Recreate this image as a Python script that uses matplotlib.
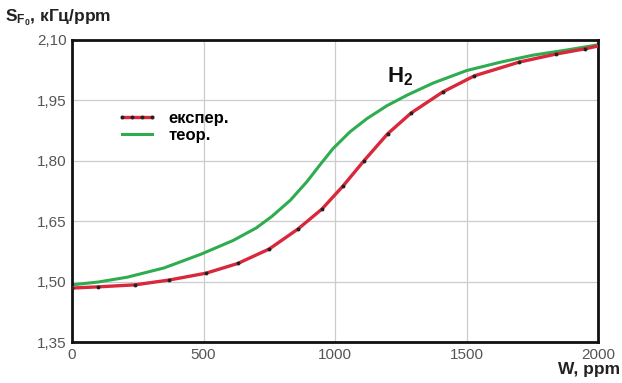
import matplotlib
matplotlib.use('Agg')
import matplotlib.pyplot as plt
from matplotlib.lines import Line2D

plt.rcParams['font.family'] = ['Liberation Sans', 'DejaVu Sans']
plt.rcParams['mathtext.fontset'] = 'custom'
plt.rcParams['mathtext.rm'] = 'Liberation Sans:bold'
plt.rcParams['mathtext.it'] = 'Liberation Sans:bold'
plt.rcParams['mathtext.bf'] = 'Liberation Sans:bold'

W_exp = [0, 100, 240, 370, 510, 630, 750, 860, 950, 1030, 1110, 1200,
         1290, 1410, 1530, 1700, 1840, 1950, 2000]
S_exp = [1.484, 1.487, 1.492, 1.504, 1.521, 1.545, 1.581, 1.631, 1.680,
         1.737, 1.800, 1.867, 1.919, 1.971, 2.011, 2.045, 2.065, 2.078, 2.085]
marker_pts = 18  # last value is the line end, no marker

# theoretical curve
W_teor = [0, 100, 210, 350, 490, 612, 700, 760, 830, 893, 943, 992, 1057,
          1122, 1198, 1274, 1373, 1500, 1630, 1750, 1880, 2000]
S_teor = [1.492, 1.499, 1.511, 1.534, 1.568, 1.602, 1.633, 1.662, 1.702,
          1.748, 1.790, 1.830, 1.872, 1.905, 1.937, 1.963, 1.993, 2.024,
          2.045, 2.062, 2.075, 2.088]

yticks = [1.35, 1.50, 1.65, 1.80, 1.95, 2.10]
ytick_labels = ['1,35', '1,50', '1,65', '1,80', '1,95', '2,10']
xticks = [0, 500, 1000, 1500, 2000]

fig = plt.figure(figsize=(6.22, 3.83), dpi=100)
ax = fig.add_axes([0.1158, 0.107, 0.8456, 0.7886])

red = '#d9283c'
green = '#2fac4f'

ax.plot(W_teor, S_teor, color=green, lw=2.2)
ax.plot(W_exp, S_exp, color=red, lw=2.4, zorder=3)
ax.plot(W_exp[:marker_pts], S_exp[:marker_pts], ls='none', marker='o',
        ms=1.8, color='#222222', zorder=4)

ax.set_xlim(0, 2000)
ax.set_ylim(1.35, 2.10)
ax.set_xticks(xticks)
ax.set_yticks(yticks)
ax.set_yticklabels(ytick_labels)
ax.tick_params(length=0, labelsize=11, labelcolor='#555555', pad=4)
ax.grid(color='#cccccc', lw=0.9)
ax.set_axisbelow(True)
for s in ax.spines.values():
    s.set_linewidth(2)
    s.set_color('#111111')

h_exp = Line2D([], [], color=red, lw=2.4, marker='o', ms=1.8,
               mfc='#222222', mec='#222222', markevery=[1, 2, 3])
h_teor = Line2D([], [], color=green, lw=2.2)
ax.legend([h_exp, h_teor], ['експер.', 'теор.'], frameon=False,
          loc='upper left', bbox_to_anchor=(0.057, 0.815),
          handlelength=2.4, handletextpad=0.7, labelspacing=0.14,
          prop={'weight': 'bold', 'size': 12}, numpoints=4)

ax.text(0.598, 0.86, r'$\mathbf{H_2}$', transform=ax.transAxes,
        fontsize=16, color='#111111')

fig.text(0.008, 0.955, r'$\mathbf{S_{F_0}}$, кГц/ppm', fontsize=12.5,
         fontweight='bold', color='#222222', va='center')
fig.text(0.997, 0.035, 'W, ppm', fontsize=12.5, fontweight='bold',
         color='#222222', ha='right', va='center')

fig.savefig('out.png', dpi=100)
